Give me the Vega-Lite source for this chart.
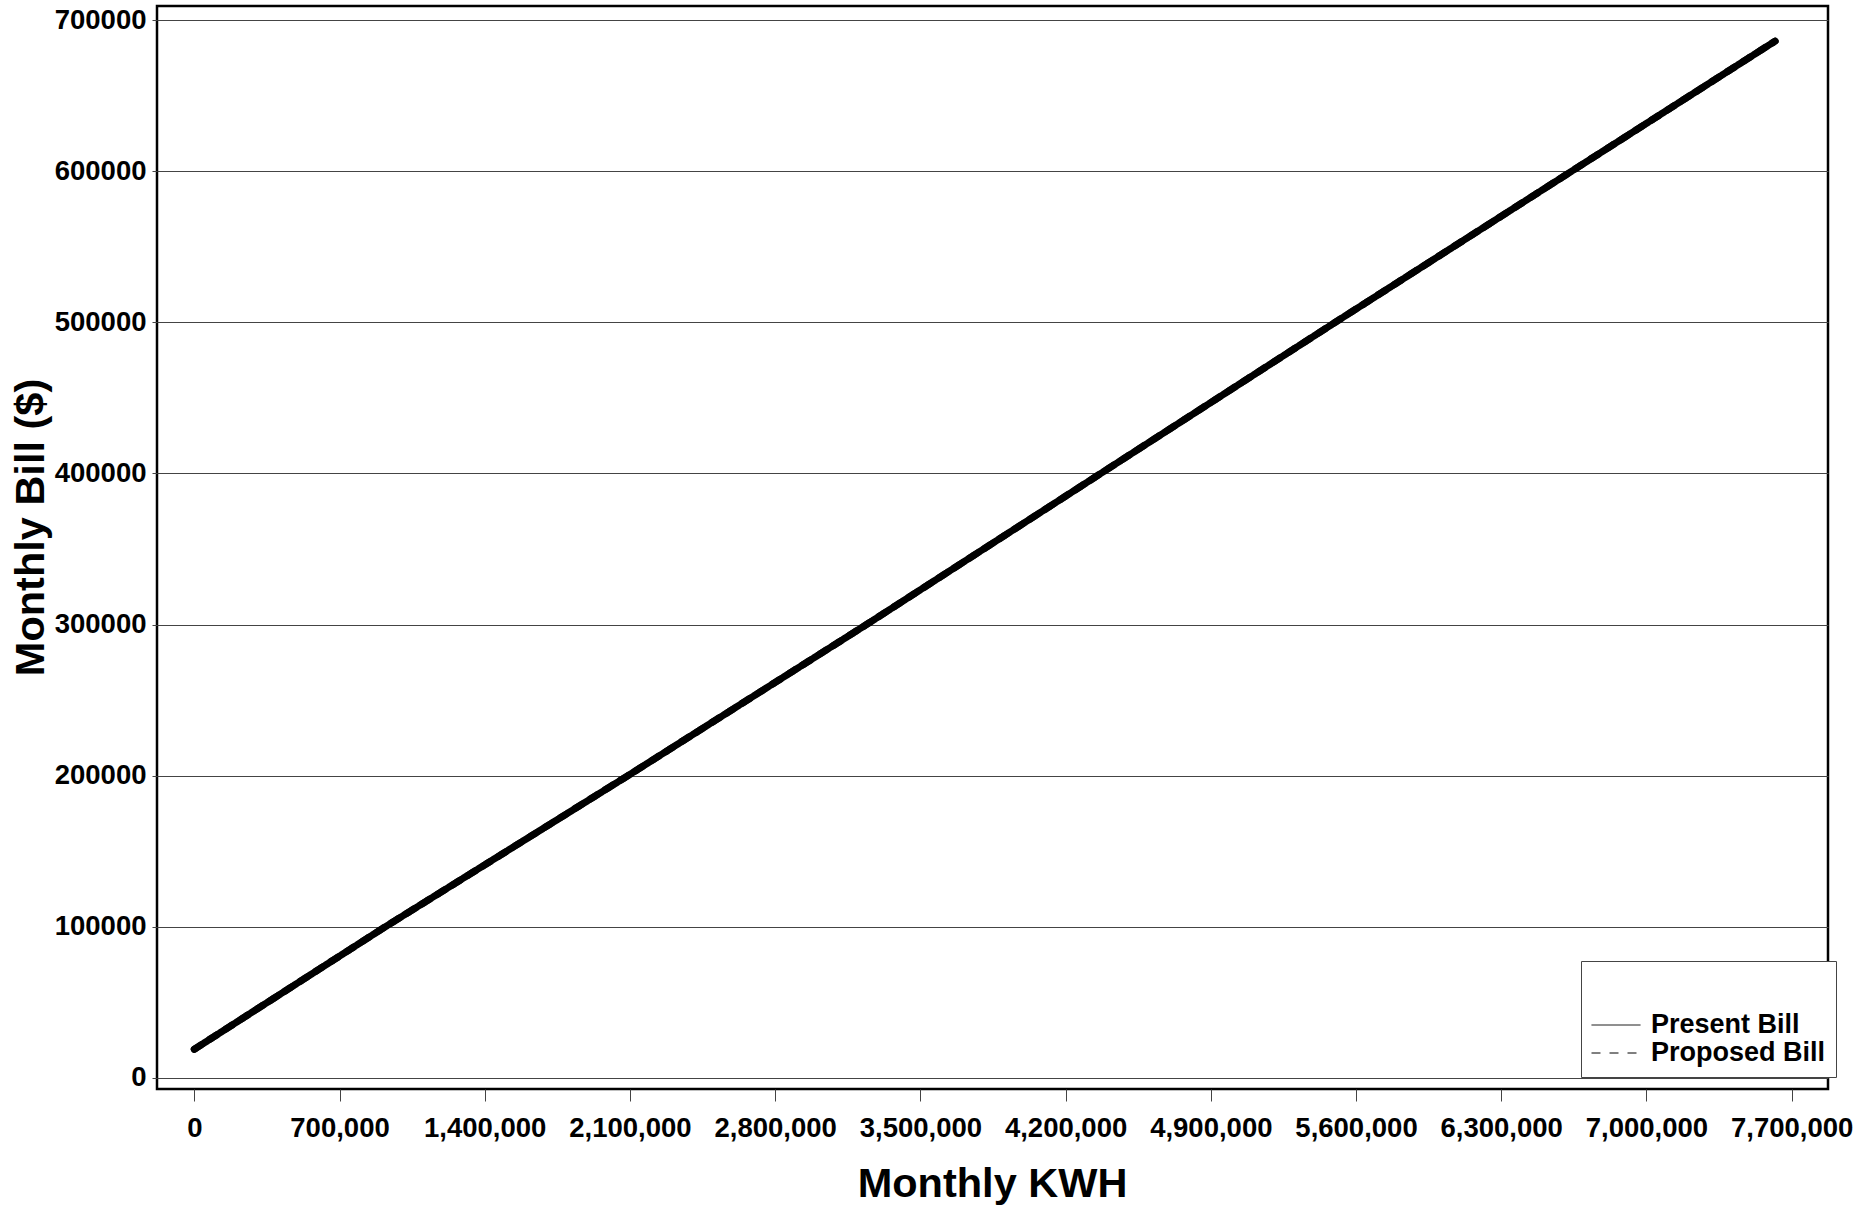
{
  "$schema": "https://vega.github.io/schema/vega-lite/v6.json",
  "width": 1671,
  "height": 1083,
  "autosize": {"type": "none"},
  "padding": {"left": 157, "top": 6, "right": 41, "bottom": 120},
  "background": "white",
  "config": {
    "font": "Liberation Sans",
    "view": {"stroke": "black", "strokeWidth": 2.5},
    "axis": {
      "labelFont": "Liberation Sans",
      "labelFontWeight": "bold",
      "labelFontSize": 27.5,
      "labelColor": "black",
      "titleFont": "Liberation Sans",
      "titleFontWeight": "bold",
      "titleFontSize": 41.5,
      "titleColor": "black",
      "domain": false,
      "tickColor": "#444",
      "tickWidth": 1,
      "gridColor": "#444",
      "gridWidth": 1,
      "gridOpacity": 1
    },
    "legend": {
      "labelFont": "Liberation Sans",
      "labelFontWeight": "bold",
      "labelFontSize": 27,
      "labelColor": "black",
      "labelLimit": 0
    }
  },
  "data": {
    "values": [
      {"kwh": 0, "bill": 19000, "series": "Present Bill"},
      {"kwh": 920000, "bill": 100000, "series": "Present Bill"},
      {"kwh": 2090000, "bill": 200000, "series": "Present Bill"},
      {"kwh": 3240000, "bill": 300000, "series": "Present Bill"},
      {"kwh": 4370000, "bill": 400000, "series": "Present Bill"},
      {"kwh": 5500000, "bill": 500000, "series": "Present Bill"},
      {"kwh": 6640000, "bill": 600000, "series": "Present Bill"},
      {"kwh": 7620000, "bill": 686000, "series": "Present Bill"},
      {"kwh": 0, "bill": 19000, "series": "Proposed Bill"},
      {"kwh": 920000, "bill": 100000, "series": "Proposed Bill"},
      {"kwh": 2090000, "bill": 200000, "series": "Proposed Bill"},
      {"kwh": 3240000, "bill": 300000, "series": "Proposed Bill"},
      {"kwh": 4370000, "bill": 400000, "series": "Proposed Bill"},
      {"kwh": 5500000, "bill": 500000, "series": "Proposed Bill"},
      {"kwh": 6640000, "bill": 600000, "series": "Proposed Bill"},
      {"kwh": 7620000, "bill": 686000, "series": "Proposed Bill"}
    ]
  },
  "mark": {"type": "line", "stroke": "black", "strokeWidth": 7, "strokeCap": "round", "strokeJoin": "round", "clip": true},
  "encoding": {
    "x": {
      "field": "kwh",
      "type": "quantitative",
      "scale": {"domain": [-179800, 7875200], "nice": false, "zero": false},
      "axis": {
        "title": "Monthly KWH",
        "values": [0, 700000, 1400000, 2100000, 2800000, 3500000, 4200000, 4900000, 5600000, 6300000, 7000000, 7700000],
        "format": ",.0f",
        "grid": false,
        "tickSize": 12,
        "labelPadding": 13,
        "labelFlush": false,
        "labelOverlap": false,
        "titleBaseline": "alphabetic",
        "titleY": 107,
        "titleX": 835
      }
    },
    "y": {
      "field": "bill",
      "type": "quantitative",
      "scale": {"domain": [-7278, 709263], "nice": false, "zero": false},
      "axis": {
        "title": "Monthly Bill ($)",
        "values": [0, 100000, 200000, 300000, 400000, 500000, 600000, 700000],
        "format": "d",
        "grid": true,
        "tickSize": 5,
        "labelPadding": 6,
        "labelFlush": false,
        "labelOverlap": false,
        "titleAngle": -90,
        "titleBaseline": "alphabetic",
        "titleAlign": "center",
        "titleX": -114,
        "titleY": 521
      }
    },
    "strokeDash": {
      "field": "series",
      "type": "nominal",
      "scale": {"domain": ["Present Bill", "Proposed Bill"], "range": [[1, 0], [9, 9]]},
      "legend": {
        "title": " ",
        "titleFontSize": 26,
        "titlePadding": 14,
        "orient": "none",
        "legendX": 1424,
        "legendY": 955,
        "padding": 10,
        "strokeColor": "#444",
        "fillColor": "white",
        "symbolType": "stroke",
        "symbolSize": 2401,
        "symbolStrokeWidth": 1,
        "symbolStrokeColor": "black",
        "labelOffset": 10,
        "clipHeight": 28,
        "rowPadding": 0
      }
    }
  }
}
